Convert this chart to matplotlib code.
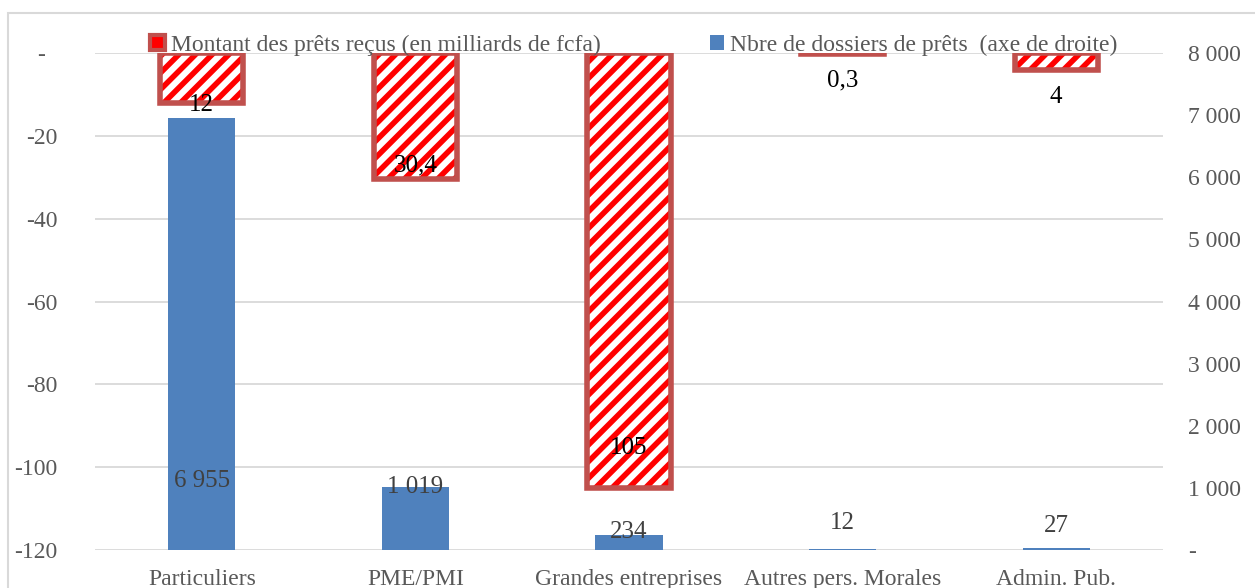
import matplotlib.pyplot as plt
import numpy as np
from matplotlib.patches import Patch, Rectangle

## Data
categories = ["Particuliers", "PME/PMI", "Grandes entreprises", "Autres pers. Morales", "Admin. Pub."]
montant = [12, 30.4, 105, 0.3, 4]          # milliards de fcfa (axe gauche, vers le bas)
dossiers = [6955, 1019, 234, 12, 27]       # nombre de dossiers (axe de droite)
left_ticks = [0, -20, -40, -60, -80, -100, -120]
right_ticks = [0, 1000, 2000, 3000, 4000, 5000, 6000, 7000, 8000]

## label placement (points from bar end for red, axis units for blue)
red_lab_off = [-2, 10, 29, -19, -20]
blue_lab_y = [1110, 1015, 290, 435, 385]

ftsz = 17
grey = '#595959'
plt.rcParams['font.family'] = ['Liberation Serif', 'DejaVu Serif']
plt.rcParams['hatch.linewidth'] = 4.0

fig = plt.figure(figsize=(12.55, 5.88), dpi=100)
ax = fig.add_axes([95/1255, 1-550/588, (1163-95)/1255, (550-53)/588])
ax2 = ax.twinx()

x = np.arange(len(categories))
neg = [-v for v in montant]

## red hatched bars hanging from the top (left axis)
ax.bar(x, neg, width=0.39, color='white', edgecolor='#FF0000', linewidth=0, hatch='//', zorder=3)
ax.bar(x, neg, width=0.39, fill=False, edgecolor='#C0504D', linewidth=4, zorder=4)
for i, v in enumerate(montant):
    txt = ('%g' % v).replace('.', ',')
    ax.annotate(txt, (x[i], -v), xytext=(0, red_lab_off[i]), textcoords='offset points',
                ha='center', va='center', fontsize=ftsz+1, color='black', zorder=6)

## blue bars (right axis)
ax2.bar(x, dossiers, width=0.314, color='#4F81BD', zorder=3)
for i, v in enumerate(dossiers):
    txt = '{:,}'.format(v).replace(',', ' ')
    ax2.text(x[i], blue_lab_y[i], txt, ha='center', va='center', fontsize=ftsz+1, color='#404040', zorder=6)

## axes
ax.set_xlim(-0.5, len(categories)-0.5)
ax.set_ylim(-120, 0)
ax2.set_ylim(0, 8000)
ax.set_yticks(left_ticks)
ax.set_yticklabels(['-  ' if t == 0 else str(t) for t in left_ticks])
ax2.set_yticks(right_ticks)
ax2.set_yticklabels(['-' if t == 0 else '{:,}'.format(t).replace(',', ' ') for t in right_ticks])
ax.set_xticks(x)
ax.set_xticklabels(categories)
ax.grid(axis='y', color='#D9D9D9', linewidth=1.3, zorder=0)
ax.set_axisbelow(True)
for a in (ax, ax2):
    for s in a.spines.values():
        s.set_visible(False)
    a.tick_params(length=0, labelsize=ftsz, labelcolor=grey)
ax.tick_params(axis='y', pad=27)
ax2.tick_params(axis='y', pad=18)
ax.tick_params(axis='x', pad=14)
for lab in ax2.get_yticklabels():
    lab.set_horizontalalignment('left')

## legend
handles = [Patch(facecolor='#FF0000', edgecolor='#C0504D', linewidth=3),
           Patch(facecolor='#4F81BD', edgecolor='none')]
labels = ['Montant des prêts reçus (en milliards de fcfa)', 'Nbre de dossiers de prêts  (axe de droite)']
leg = fig.legend(handles, labels, loc='center', bbox_to_anchor=(634/1255, 1-45/588), ncol=2,
                 frameon=False, fontsize=ftsz, handlelength=0.6, handleheight=0.6,
                 handletextpad=0.25, columnspacing=4.65, borderpad=0)
for t in leg.get_texts():
    t.set_color(grey)

## chart area border
fig.patches.append(Rectangle((8/1255, -0.1), 1.1, 1-13/588+0.1, transform=fig.transFigure,
                             fill=False, edgecolor='#D9D9D9', linewidth=1.5))

plt.savefig('out.png', dpi=100)
